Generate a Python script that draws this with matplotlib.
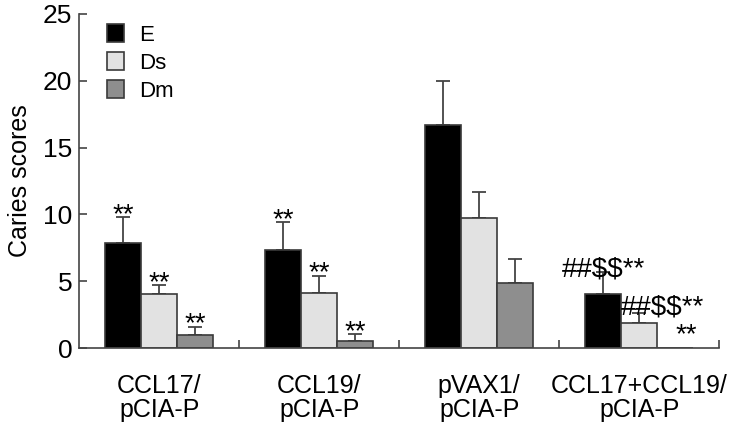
import numpy as np
import matplotlib
matplotlib.use('Agg')
import matplotlib.pyplot as plt

plt.rcParams['font.family'] = ['Liberation Sans', 'DejaVu Sans']
plt.rcParams['text.parse_math'] = False

groups = ['CCL17/\npCIA-P', 'CCL19/\npCIA-P', 'pVAX1/\npCIA-P', 'CCL17+CCL19/\npCIA-P']
series = ['E', 'Ds', 'Dm']
e_mean = [7.9, 7.35, 16.7, 4.05]
e_err = [1.9, 2.05, 3.3, 1.65]
ds_mean = [4.05, 4.15, 9.7, 1.9]
ds_err = [0.65, 1.25, 2.0, 0.75]
dm_mean = [0.95, 0.5, 4.9, 0.0]
dm_err = [0.65, 0.55, 1.75, 0.0]
e_sig = ['**', '**', '', '##$$**']
ds_sig = ['**', '**', '', '##$$**']
dm_sig = ['**', '**', '', '**']

colors = ['#000000', '#e2e2e2', '#8e8e8e']
means = [e_mean, ds_mean, dm_mean]
errs = [e_err, ds_err, dm_err]
sigs = [e_sig, ds_sig, dm_sig]

fig = plt.figure(figsize=(7.4, 4.24), dpi=100)
ax = fig.add_axes([0.107, 0.179, 0.865, 0.788])

x = np.arange(len(groups))
w = 0.225
for i in range(3):
    pos = x + (i - 1) * w
    ax.bar(pos, means[i], w, color=colors[i], edgecolor='#3a3a3a', linewidth=1.2,
           label=series[i], zorder=2)
    m = np.array(means[i])
    e = np.array(errs[i])
    has = e > 0
    ax.errorbar(pos[has], m[has], yerr=[np.zeros(has.sum()), e[has]], fmt='none',
                ecolor='#444444', elinewidth=1.3, capsize=5, capthick=1.3, zorder=1)
    for j in range(len(groups)):
        s = sigs[i][j]
        if not s:
            continue
        top = means[i][j] + errs[i][j]
        if s.startswith('##') and i == 1:
            ax.text(pos[j] - w / 2, top - 0.6, s, ha='left', va='bottom', fontsize=20)
        elif i == 2 and j == 3:
            ax.text(pos[j] + 0.07, 0.0, s, ha='center', va='bottom', fontsize=20)
        else:
            ax.text(pos[j], top - 0.8, s, ha='center', va='bottom', fontsize=20)

ax.set_xlim(-0.5, 3.5)
ax.set_ylim(0, 25)
ax.set_yticks([0, 5, 10, 15, 20, 25])
ax.set_xticks(x)
ax.set_xticklabels(groups, fontsize=18, linespacing=0.95)
ax.set_xticks([0.5, 1.5, 2.5, 3.5], minor=True)
ax.tick_params(axis='x', which='major', length=0, pad=19)
ax.tick_params(axis='x', which='minor', direction='in', length=6, width=1.2, color='#444444')
ax.tick_params(axis='y', direction='in', length=6, width=1.2, color='#444444',
               labelsize=19, pad=5)
ax.set_ylabel('Caries scores', fontsize=18, labelpad=8)
for s in ['top', 'right']:
    ax.spines[s].set_visible(False)
for s in ['left', 'bottom']:
    ax.spines[s].set_color('#444444')
    ax.spines[s].set_linewidth(1.2)

ax.legend(loc='upper left', bbox_to_anchor=(0.012, 1.03), frameon=False, fontsize=16,
          handlelength=0.75, handleheight=0.85, handletextpad=0.7, labelspacing=0.3)

fig.savefig('out.png', dpi=100)
